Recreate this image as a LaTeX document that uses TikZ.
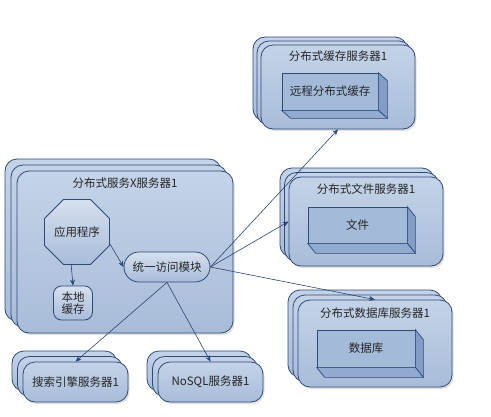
\documentclass[tikz,border=0pt]{standalone}
\usepackage{fontspec}
\setmainfont{Noto Sans CJK SC}
\usetikzlibrary{shapes.geometric,calc,shadows,arrows.meta}
\definecolor{edge}{HTML}{2E4B78}
\definecolor{boxtop}{HTML}{C4D3E8}
\definecolor{boxbot}{HTML}{A8BCD9}
\definecolor{facec}{HTML}{A3BAD9}
\definecolor{sidec}{HTML}{829DC6}
\definecolor{botc}{HTML}{90AAD0}
\definecolor{arrowc}{HTML}{2B4570}
\begin{document}
\begin{tikzpicture}[x=1pt,y=-1pt,
  every node/.style={font=\fontsize{11.5}{13}\selectfont, text=black!85},
  srv/.style={draw=edge, line width=0.8pt, rounded corners=12pt, top color=boxtop, bottom color=boxbot, inner sep=0pt},
  srvf/.style={srv, drop shadow={shadow xshift=1.5pt, shadow yshift=-2pt, opacity=0.25}},
  face/.style={draw=edge, line width=0.7pt, fill=facec, inner sep=0pt},
  ttl/.style={inner sep=0pt},
  comp/.style={draw=edge, line width=0.8pt, top color=boxtop!70!white, bottom color=boxbot, inner sep=0pt, align=center},
  conn/.style={draw=arrowc, line width=0.6pt, -{Stealth[length=6pt,width=5pt]}}
]
\useasboundingbox (0,0) rectangle (491,416);

% ---- server X ----
\node[srv, minimum width=216pt, minimum height=162pt] (xb2) at (113,240) {};
\node[srv, minimum width=216pt, minimum height=162pt] (xb1) at (119,246) {};
\node[srvf, minimum width=216pt, minimum height=162pt] (xs) at (125,252) {};
\node[ttl] (xt) at (125,183) {分布式服务X服务器1};
\node[comp, regular polygon, regular polygon sides=8, minimum size=70pt] (app) at (77,232) {应用程序};
\node[comp, rounded corners=8pt, minimum width=39pt, minimum height=34pt] (loc) at (73,303) {本地\\[-1pt]缓存};
\node[comp, rounded corners=15pt, minimum width=86pt, minimum height=30pt] (uni) at (167,267) {统一访问模块};

% ---- cache server ----
\node[srv, minimum width=154pt, minimum height=84pt] (cb2) at (330,79) {};
\node[srv, minimum width=154pt, minimum height=84pt] (cb1) at (334,83) {};
\node[srvf, minimum width=154pt, minimum height=84pt] (cs) at (338,87) {};
\node[ttl] (ct) at (338,56) {分布式缓存服务器1};
\node[face, minimum width=96pt, minimum height=37pt] (cin) at (330,91.5) {};
\fill[sidec, draw=edge, line width=0.7pt] (cin.north east) -- ($(cin.north east)+(9,8)$) -- ($(cin.south east)+(9,8)$) -- (cin.south east) -- cycle;
\fill[botc, draw=edge, line width=0.7pt] (cin.south west) -- (cin.south east) -- ($(cin.south east)+(9,8)$) -- ($(cin.south west)+(9,8)$) -- cycle;
\node[ttl] (cint) at (cin) {远程分布式缓存};

% ---- file server ----
\node[srv, minimum width=154pt, minimum height=89pt] (fb2) at (357,212.5) {};
\node[srv, minimum width=154pt, minimum height=89pt] (fb1) at (361.5,217) {};
\node[srvf, minimum width=154pt, minimum height=89pt] (fs) at (366,221.5) {};
\node[ttl] (ft) at (366,189) {分布式文件服务器1};
\node[face, minimum width=99pt, minimum height=36pt] (fin) at (357.5,225) {};
\fill[sidec, draw=edge, line width=0.7pt] (fin.north east) -- ($(fin.north east)+(8,10)$) -- ($(fin.south east)+(8,10)$) -- (fin.south east) -- cycle;
\fill[botc, draw=edge, line width=0.7pt] (fin.south west) -- (fin.south east) -- ($(fin.south east)+(8,10)$) -- ($(fin.south west)+(8,10)$) -- cycle;
\node[ttl] (fint) at (fin) {文件};

% ---- database server ----
\node[srv, minimum width=154pt, minimum height=87pt] (db2) at (365,333.5) {};
\node[srv, minimum width=154pt, minimum height=87pt] (db1) at (370,338.5) {};
\node[srvf, minimum width=154pt, minimum height=87pt] (ds) at (375,343.5) {};
\node[ttl] (dt) at (375,313) {分布式数据库服务器1};
\node[face, minimum width=98pt, minimum height=37pt] (din) at (366,348.5) {};
\fill[sidec, draw=edge, line width=0.7pt] (din.north east) -- ($(din.north east)+(8,10)$) -- ($(din.south east)+(8,10)$) -- (din.south east) -- cycle;
\fill[botc, draw=edge, line width=0.7pt] (din.south west) -- (din.south east) -- ($(din.south east)+(8,10)$) -- ($(din.south west)+(8,10)$) -- cycle;
\node[ttl] (dint) at (din) {数据库};

% ---- search server ----
\node[srv, minimum width=105pt, minimum height=40pt] (sb2) at (64.5,371) {};
\node[srv, minimum width=105pt, minimum height=40pt] (sb1) at (70,376.5) {};
\node[srvf, minimum width=105pt, minimum height=40pt] (ss) at (75.5,382) {搜索引擎服务器1};

% ---- NoSQL server ----
\node[srv, minimum width=105pt, minimum height=40pt] (nb2) at (199.5,371) {};
\node[srv, minimum width=105pt, minimum height=40pt] (nb1) at (205,376.5) {};
\node[srvf, minimum width=105pt, minimum height=40pt] (ns) at (210.5,382) {NoSQL服务器1};

% ---- connectors ----
\draw[conn] (app.-100) -- (loc.north);
\draw[conn] (app.-20) -- (uni.west);
\draw[conn] (uni.east) -- (cs.south);
\draw[conn] (uni.east) -- (fs.west);
\draw[conn] (uni.east) -- (ds.north);
\draw[conn] (uni.south) -- (ss.north);
\draw[conn] (uni.south) -- (ns.north);
\end{tikzpicture}
\end{document}
